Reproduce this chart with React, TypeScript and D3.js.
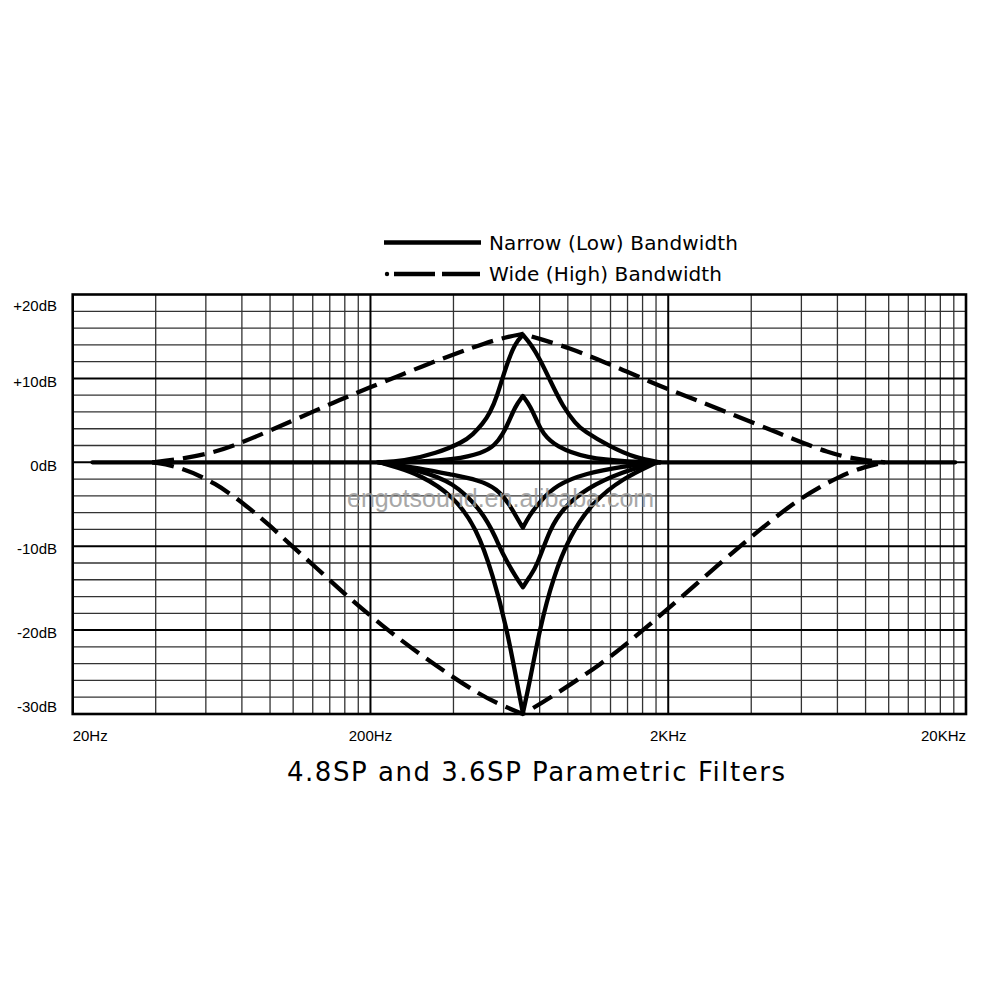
import React from 'react';
import * as d3 from 'd3';

type Pt = [number, number];

const freqTicks = [20, 200, 2000, 20000];
const freqLabels = ['20Hz', '200Hz', '2KHz', '20KHz'];
const dbTicks = [20, 10, 0, -10, -20, -30];
const dbLabels = ['+20dB', '+10dB', '0dB', '-10dB', '-20dB', '-30dB'];
const decadeStarts = [20, 200, 2000];
const legendLabels = ['Narrow (Low) Bandwidth', 'Wide (High) Bandwidth'];
const titleText = '4.8SP and 3.6SP Parametric Filters';
const watermarkText = 'engotsound.en.alibaba.com';

// [frequency Hz, gain dB]
const flatLine: Pt[] = [[23.3, 0], [18400, 0]];

const narrowBoostHigh: Pt[] = [
  [212, 0], [257, 0.1], [334, 1.07], [409, 2.4], [441, 3.3], [477, 4.6], [504, 5.9],
  [532, 7.8], [570, 11.4], [611, 14.2], [650, 15.2], [691, 14.1], [741, 12.3], [801, 9.8],
  [886, 6.6], [979, 4.6], [1034, 3.8], [1274, 1.86], [1558, 0.5], [1876, 0],
];
const narrowBoostLow: Pt[] = [
  [212, 0], [300, 0.08], [378, 0.3], [477, 1.1], [523, 2.0], [557, 3.4], [583, 4.8],
  [611, 6.6], [650, 7.9], [691, 6.6], [724, 4.9], [759, 3.4], [839, 1.86], [1058, 0.48],
  [1487, 0.05], [1876, 0],
];
const narrowCutLow: Pt[] = [
  [215, 0], [293, -0.7], [378, -1.5], [459, -2.1], [532, -3.1], [588, -5.1], [620, -6.6],
  [650, -7.8], [681, -6.4], [741, -4.7], [839, -2.7], [1058, -1.3], [1409, -0.5], [1832, 0],
];
const narrowCutMid: Pt[] = [
  [215, 0], [293, -1.0], [378, -2.3], [477, -5.9], [527, -9.0], [557, -11], [616, -13.7],
  [650, -14.9], [686, -13.6], [724, -12.4], [801, -7.9], [886, -5.5], [1058, -3.1],
  [1409, -1.1], [1832, 0],
];
const narrowCutDeep: Pt[] = [
  [215, 0], [245, -0.6], [293, -1.5], [378, -3.9], [456, -7.9], [515, -13.4], [574, -19.8],
  [620, -26.1], [650, -29.9], [686, -26.1], [741, -19.8], [820, -13.8], [935, -8.7],
  [1117, -4.7], [1409, -1.9], [1832, 0],
];

const wideBoost: Pt[] = [
  [37, 0], [45.4, 0.35], [58.8, 1.1], [72.2, 2.2], [91, 3.7], [115, 5.3], [152, 7.2],
  [192, 8.7], [306, 11.6], [396, 13.1], [486, 14.2], [566, 14.9], [650, 15.3], [743, 14.7],
  [937, 13.6], [1152, 12.3], [1411, 11.0], [1740, 9.6], [2030, 8.6], [2990, 6.3],
  [4750, 3.4], [7000, 1.0], [8800, 0.3], [10700, 0],
];
const wideCut: Pt[] = [
  [37, 0], [45.4, -0.5], [60.3, -2.4], [78, -5.4], [91, -7.4], [106, -9.6], [131, -12.5],
  [165, -15.8], [219, -19.5], [291, -22.8], [367, -25.3], [462, -27.6], [545, -28.9],
  [650, -30], [802, -28.1], [1209, -23.9], [1524, -21.0], [1978, -17.6], [2990, -12.0],
  [4070, -8.0], [5550, -4.2], [7560, -1.6], [9170, -0.5], [10700, 0],
];

const narrowSeries = [flatLine, narrowBoostHigh, narrowBoostLow, narrowCutLow, narrowCutMid, narrowCutDeep];
const wideSeries = [wideBoost, wideCut];

// repeat the extremum so the B-spline passes through the tip
function withTip(s: Pt[]): Pt[] {
  const i = d3.maxIndex(s, (d) => Math.abs(d[1]));
  return [...s.slice(0, i), s[i], s[i], ...s.slice(i)];
}

export default function App() {
  const W = 1000;
  const H = 1000;
  const left = 72.7, right = 966, top = 294.5, bottom = 714;
  const x = d3.scaleLog().domain([20, 20000]).range([left, right]);
  const y = d3.scaleLinear().domain([-30, 20]).range([bottom, top]);
  const line = d3
    .line<Pt>()
    .x((d) => x(d[0]))
    .y((d) => y(d[1]))
    .curve(d3.curveBasis);

  const minorFreqs = decadeStarts.flatMap((d) => d3.range(1, 10).map((k) => d * (1 + 0.9 * k)));
  const dbGrid = d3.range(-28, 20, 2).filter((v) => v % 10 !== 0);
  const dbMajor = [10, 0, -10, -20];
  const labelFont = "'Liberation Sans', Arial, sans-serif";
  const titleFont = "'DejaVu Sans', Verdana, sans-serif";

  return (
    <svg
      width={W}
      height={H}
      style={{ position: 'absolute', left: 0, top: 0, display: 'block', background: '#fff' }}
    >
      <rect x={0} y={0} width={W} height={H} fill="#fff" />
      {/* minor grid */}
      <g stroke="#333" strokeWidth={1.3}>
        {minorFreqs
          .filter((f) => f !== 200 && f !== 2000)
          .map((f, i) => (
            <line key={'vf' + i} x1={x(f)} x2={x(f)} y1={top} y2={bottom} />
          ))}
        {dbGrid.map((v) => (
          <line key={'h' + v} x1={left} x2={right} y1={y(v)} y2={y(v)} />
        ))}
      </g>
      {/* major grid */}
      <g stroke="#000" strokeWidth={2}>
        {[200, 2000].map((f) => (
          <line key={'vM' + f} x1={x(f)} x2={x(f)} y1={top} y2={bottom} />
        ))}
        {dbMajor.map((v) => (
          <line key={'hM' + v} x1={left} x2={right} y1={y(v)} y2={y(v)} />
        ))}
      </g>
      {/* frame */}
      <rect x={left} y={top} width={right - left} height={bottom - top} fill="none" stroke="#000" strokeWidth={2.6} />

      {/* curves */}
      <g fill="none" stroke="#000" strokeWidth={4.3} strokeLinejoin="round" strokeLinecap="round">
        {narrowSeries.map((s, i) => (
          <path key={'n' + i} d={line(withTip(s)) || ''} />
        ))}
      </g>
      <g fill="none" stroke="#000" strokeWidth={4.3} strokeDasharray="22 9" strokeLinejoin="round">
        {wideSeries.map((s, i) => (
          <path key={'w' + i} d={line(withTip(s)) || ''} />
        ))}
      </g>

      {/* y labels */}
      <g fontFamily={labelFont} fontSize={15} fill="#000" textAnchor="end">
        {dbTicks.map((v, i) => {
          const cy = Math.max(top + 11, Math.min(bottom - 7, y(v) + 3));
          return (
            <text key={'yl' + v} x={57} y={cy} dy="0.35em">
              {dbLabels[i]}
            </text>
          );
        })}
      </g>
      {/* x labels */}
      <g fontFamily={labelFont} fontSize={15} fill="#000">
        {freqTicks.map((f, i) => (
          <text
            key={'xl' + f}
            x={x(f)}
            y={741}
            textAnchor={i === 0 ? 'start' : i === freqTicks.length - 1 ? 'end' : 'middle'}
          >
            {freqLabels[i]}
          </text>
        ))}
      </g>

      {/* legend */}
      <line x1={384} x2={481} y1={242.5} y2={242.5} stroke="#000" strokeWidth={4.3} />
      <circle cx={387} cy={274} r={2.2} fill="#000" />
      <line x1={394} x2={480} y1={274} y2={274} stroke="#000" strokeWidth={4.5} strokeDasharray="41 7 40 100" />
      <g fontFamily={titleFont} fontSize={20} fill="#000">
        <text x={489} y={250} textLength={249} lengthAdjust="spacing">
          {legendLabels[0]}
        </text>
        <text x={489} y={281} textLength={233} lengthAdjust="spacing">
          {legendLabels[1]}
        </text>
      </g>

      {/* title */}
      <text x={287} y={781} fontFamily={titleFont} fontSize={26} fill="#000" textLength={498} lengthAdjust="spacing">
        {titleText}
      </text>

      {/* watermark */}
      <text x={347} y={507} fontFamily={labelFont} fontSize={25} fill="#999" opacity={0.85}>
        {watermarkText}
      </text>
    </svg>
  );
}
